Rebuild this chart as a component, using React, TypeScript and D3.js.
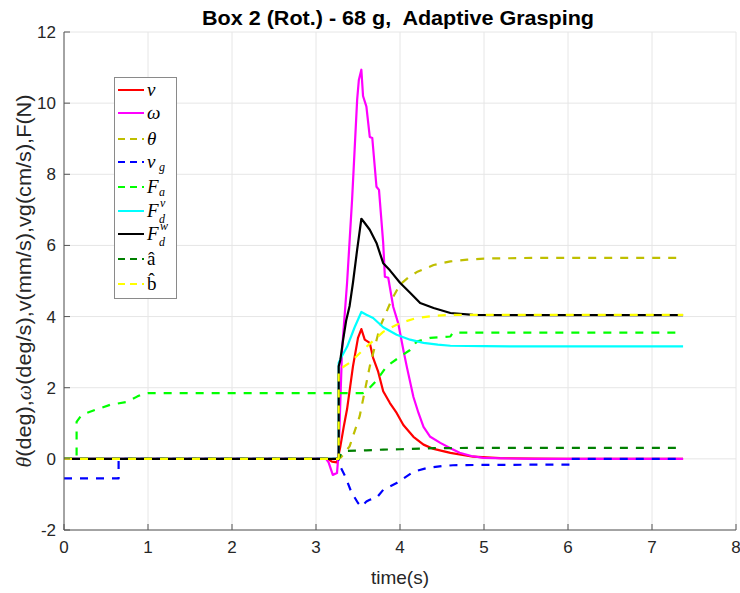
import React from "react";
import * as d3 from "d3";

const W = 740, H = 593;
const xTicks = [0, 1, 2, 3, 4, 5, 6, 7, 8];
const yTicks = [-2, 0, 2, 4, 6, 8, 10, 12];

// v (red)
const vT = [0, 3.14, 3.19, 3.25, 3.29, 3.33, 3.37, 3.44, 3.5, 3.54, 3.58, 3.64, 3.68, 3.74, 3.8, 3.88, 3.96, 4.04, 4.16, 4.28, 4.4, 4.6, 4.87, 5.19, 5.6, 6.0, 7.37];
const vY = [0, 0, -0.08, -0.1, 0.35, 0.9, 1.4, 2.6, 3.4, 3.65, 3.35, 3.26, 2.84, 2.45, 1.9, 1.57, 1.29, 0.95, 0.62, 0.4, 0.28, 0.17, 0.06, 0.02, 0.01, 0, 0];
// omega (magenta)
const wT = [0, 3.12, 3.15, 3.2, 3.25, 3.27, 3.31, 3.37, 3.43, 3.46, 3.49, 3.51, 3.54, 3.56, 3.6, 3.64, 3.67, 3.72, 3.75, 3.8, 3.82, 3.86, 3.92, 3.98, 4.04, 4.08, 4.16, 4.22, 4.28, 4.36, 4.48, 4.6, 4.71, 4.85, 4.99, 5.3, 5.6, 7.37];
const wY = [0, 0, -0.1, -0.45, -0.4, 0.2, 3.06, 4.95, 7.3, 8.7, 10.1, 10.65, 10.94, 10.2, 9.9, 9.05, 9.02, 7.65, 7.56, 6.07, 5.12, 5.09, 4.27, 3.8, 3.06, 2.6, 1.74, 1.29, 0.9, 0.62, 0.45, 0.3, 0.17, 0.08, 0.03, 0.01, 0, 0];
// theta (olive dashed)
const thT = [0, 3.27, 3.3, 3.4, 3.52, 3.64, 3.76, 3.9, 4.0, 4.1, 4.2, 4.4, 4.6, 4.8, 5.0, 5.3, 5.6, 6.0, 7.37];
const thY = [0, 0, 0.05, 0.35, 1.2, 2.6, 3.7, 4.47, 4.9, 5.1, 5.25, 5.45, 5.55, 5.6, 5.63, 5.64, 5.65, 5.65, 5.65];
// v_g (blue dashed)
const vgT = [0, 0.65, 0.65, 3.27, 3.29, 3.35, 3.42, 3.5, 3.54, 3.6, 3.64, 3.72, 3.8, 3.96, 4.16, 4.32, 4.51, 4.63, 5.0, 6.02, 6.02, 7.37];
const vgY = [-0.55, -0.55, 0, 0, -0.22, -0.5, -0.93, -1.24, -1.34, -1.2, -1.15, -1.1, -0.87, -0.68, -0.36, -0.26, -0.2, -0.18, -0.17, -0.16, 0, 0];
// F_a (green dashed)
const faT = [0, 0.15, 0.15, 0.2, 0.27, 0.4, 0.55, 0.75, 0.87, 0.94, 1.0, 3.56, 3.6, 3.72, 3.84, 4.0, 4.12, 4.2, 4.36, 4.6, 4.63, 7.37];
const faY = [0, 0, 1.04, 1.2, 1.29, 1.4, 1.52, 1.6, 1.75, 1.83, 1.85, 1.85, 1.9, 2.2, 2.6, 2.87, 3.06, 3.3, 3.4, 3.44, 3.55, 3.55];
// F_d^v (cyan)
const fdvT = [0, 3.27, 3.27, 3.3, 3.37, 3.46, 3.54, 3.6, 3.68, 3.8, 3.96, 4.12, 4.28, 4.45, 4.6, 5.0, 5.5, 7.37];
const fdvY = [0, 0, 2.7, 2.85, 3.15, 3.7, 4.13, 4.05, 3.96, 3.7, 3.49, 3.35, 3.26, 3.21, 3.18, 3.17, 3.16, 3.16];
// F_d^w (black)
const fdwT = [0, 3.27, 3.27, 3.29, 3.32, 3.36, 3.4, 3.44, 3.49, 3.54, 3.58, 3.64, 3.72, 3.8, 3.88, 4.0, 4.12, 4.24, 4.4, 4.6, 4.87, 5.2, 7.37];
const fdwY = [0, 0, 2.6, 2.78, 3.3, 3.9, 4.3, 4.95, 5.88, 6.75, 6.63, 6.44, 6.07, 5.5, 5.3, 4.95, 4.67, 4.38, 4.24, 4.1, 4.05, 4.04, 4.04];
// a hat (dark green dashed)
const ahT = [0, 3.27, 3.3, 3.35, 3.6, 3.8, 4.0, 4.4, 5.0, 6.0, 7.37];
const ahY = [0, 0, 0.15, 0.22, 0.24, 0.26, 0.27, 0.3, 0.31, 0.31, 0.31];
// b hat (yellow dashed)
const bhT = [0, 3.27, 3.27, 3.4, 3.6, 3.8, 4.0, 4.2, 4.4, 4.6, 5.0, 5.5, 7.37];
const bhY = [0, 0, 2.5, 2.7, 3.15, 3.57, 3.82, 3.96, 4.02, 4.05, 4.05, 4.05, 4.05];

const series = [
  { t: vT, y: vY, color: "#ff0000", dash: false },
  { t: wT, y: wY, color: "#ff00ff", dash: false },
  { t: thT, y: thY, color: "#bfbf00", dash: true },
  { t: vgT, y: vgY, color: "#0000ff", dash: true },
  { t: faT, y: faY, color: "#00ff00", dash: true },
  { t: fdvT, y: fdvY, color: "#00ffff", dash: false },
  { t: fdwT, y: fdwY, color: "#000000", dash: false },
  { t: ahT, y: ahY, color: "#008000", dash: true },
  { t: bhT, y: bhY, color: "#ffff00", dash: true },
];

const DASH = "8,8";
const serif = "'Liberation Serif', 'DejaVu Serif', serif";
const sans = "'Liberation Sans', Arial, sans-serif";

type Leg = { color: string; dash: boolean; main: string; sub?: string; sup?: string };
const legendItems: Leg[] = [
  { color: "#ff0000", dash: false, main: "v" },
  { color: "#ff00ff", dash: false, main: "ω" },
  { color: "#bfbf00", dash: true, main: "θ" },
  { color: "#0000ff", dash: true, main: "v", sub: "g" },
  { color: "#00ff00", dash: true, main: "F", sub: "a" },
  { color: "#00ffff", dash: false, main: "F", sub: "d", sup: "v" },
  { color: "#000000", dash: false, main: "F", sub: "d", sup: "w" },
  { color: "#008000", dash: true, main: "â" },
  { color: "#ffff00", dash: true, main: "b̂" },
];
const legY = [90, 113, 139, 162, 187, 211, 234, 259, 284];

export default function App() {
  const x = d3.scaleLinear().domain([0, 8]).range([64, 736]);
  const y = d3.scaleLinear().domain([-2, 12]).range([530, 32]);
  const line = d3.line<[number, number]>().x((d) => x(d[0])).y((d) => y(d[1]));

  return (
    <svg width={W} height={H} style={{ position: "absolute", left: 0, top: 0, background: "#fff" }} xmlns="http://www.w3.org/2000/svg">
      <rect x={0} y={0} width={W} height={H} fill="#fff" />
      {xTicks.map((t) => (
        <line key={"gx" + t} x1={x(t)} x2={x(t)} y1={y(-2)} y2={y(12)} stroke="#e6e6e6" strokeWidth={1} />
      ))}
      {yTicks.map((t) => (
        <line key={"gy" + t} x1={x(0)} x2={x(8)} y1={y(t)} y2={y(t)} stroke="#e6e6e6" strokeWidth={1} />
      ))}
      {series.map((s, i) => (
        <path
          key={i}
          d={line(s.t.map((t, j) => [t, s.y[j]] as [number, number])) || ""}
          fill="none"
          stroke={s.color}
          strokeWidth={2.2}
          strokeDasharray={s.dash ? DASH : undefined}
          strokeLinejoin="round"
        />
      ))}
      <line x1={x(0)} x2={x(8)} y1={y(-2)} y2={y(-2)} stroke="#555" strokeWidth={1} />
      <line x1={x(0)} x2={x(0)} y1={y(-2)} y2={y(12)} stroke="#555" strokeWidth={1} />
      {xTicks.map((t) => (
        <g key={"tx" + t}>
          <line x1={x(t)} x2={x(t)} y1={y(-2)} y2={y(-2) - 6} stroke="#555" />
          <text x={x(t)} y={y(-2) + 23} textAnchor="middle" fontFamily={sans} fontSize={17} fill="#262626">{t}</text>
        </g>
      ))}
      {yTicks.map((t) => (
        <g key={"ty" + t}>
          <line x1={x(0)} x2={x(0) + 6} y1={y(t)} y2={y(t)} stroke="#555" />
          <text x={x(0) - 8} y={y(t) + 6} textAnchor="end" fontFamily={sans} fontSize={17} fill="#262626">{t}</text>
        </g>
      ))}
      <text x={398} y={25} textAnchor="middle" fontFamily={sans} fontWeight="bold" fontSize={20} fill="#000" textLength={392} lengthAdjust="spacingAndGlyphs">
        {"Box 2 (Rot.) - 68 g,\u00a0 Adaptive Grasping"}
      </text>
      <text x={400} y={584} textAnchor="middle" fontFamily={sans} fontSize={19} fill="#262626">time(s)</text>
      <text transform="translate(31,281) rotate(-90)" textAnchor="middle" fontFamily={sans} fontSize={20} fill="#262626" textLength={373} lengthAdjust="spacingAndGlyphs">
        <tspan fontFamily={serif} fontStyle="italic">θ</tspan>
        <tspan>(deg),</tspan>
        <tspan fontFamily={serif} fontStyle="italic">ω</tspan>
        <tspan>(deg/s),v(mm/s),vg(cm/s),F(N)</tspan>
      </text>
      <rect x={114.5} y={77.5} width={62} height={221} fill="#fff" stroke="#8a8a8a" strokeWidth={1} />
      {legendItems.map((it, i) => (
        <g key={"l" + i}>
          <line x1={118} x2={144} y1={legY[i]} y2={legY[i]} stroke={it.color} strokeWidth={2} strokeDasharray={it.dash ? "7,5" : undefined} />
          <text x={147} y={legY[i] + 6} fontFamily={serif} fontStyle={it.main === "â" || it.main === "b̂" ? "normal" : "italic"} fontSize={19} fill="#000">{it.main}</text>
          {it.sub && (
            <text x={159} y={legY[i] + (it.sup ? 12 : 9)} fontFamily={serif} fontStyle="italic" fontSize={12} fill="#000">{it.sub}</text>
          )}
          {it.sup && (
            <text x={160} y={legY[i] - 4} fontFamily={serif} fontStyle="italic" fontSize={12} fill="#000">{it.sup}</text>
          )}
        </g>
      ))}
    </svg>
  );
}
